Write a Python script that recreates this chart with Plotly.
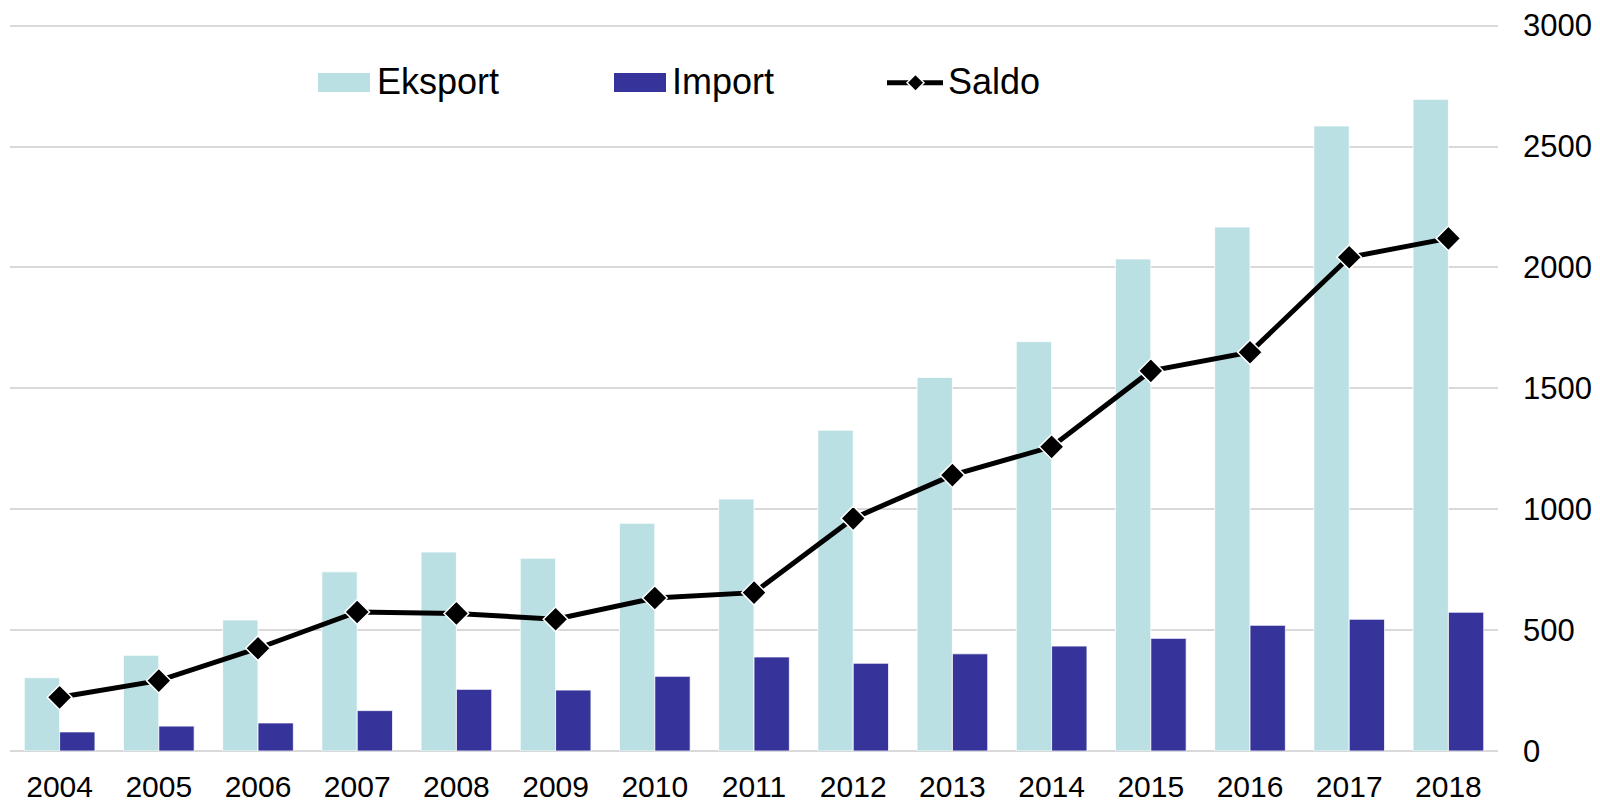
import plotly.graph_objects as go

years = ["2004", "2005", "2006", "2007", "2008", "2009", "2010", "2011",
         "2012", "2013", "2014", "2015", "2016", "2017", "2018"]
eksport = [303, 396, 542, 741, 823, 797, 942, 1042, 1327, 1545, 1693, 2035, 2167, 2585, 2695]
import_ = [79, 103, 116, 167, 255, 252, 309, 389, 363, 402, 434, 466, 520, 545, 574]
saldo = [222, 291, 425, 575, 569, 545, 633, 655, 962, 1141, 1258, 1572, 1649, 2042, 2120]
y_ticks = [0, 500, 1000, 1500, 2000, 2500, 3000]

C_EKS = "#BAE0E3"
C_IMP = "#36349A"
FONT = "Liberation Sans, Arial, sans-serif"

W, H = 1600, 803
ML, MR, MT, MB = 10, 102, 22, 52
PW, PH = W - ML - MR, H - MT - MB
YMAX = 3015


def px(x):
    return (x - ML) / PW


def py(y):
    return (H - MB - y) / PH


fig = go.Figure()
fig.add_trace(go.Bar(x=years, y=eksport, name="Eksport", marker_color=C_EKS,
                     marker_line=dict(color="white", width=0.8)))
fig.add_trace(go.Bar(x=years, y=import_, name="Import", marker_color=C_IMP,
                     marker_line=dict(color="white", width=0.8)))
fig.add_trace(go.Scatter(x=years, y=saldo, name="Saldo", mode="lines+markers",
                         line=dict(color="black", width=5),
                         marker=dict(symbol="diamond", size=19, color="black",
                                     line=dict(color="white", width=1.5))))

shapes = []
annotations = []
# manual legend
legend_items = [
    ("Eksport", C_EKS, 318, 370, 377),
    ("Import", C_IMP, 614, 666, 672),
]
for name, col, x0, x1, tx in legend_items:
    shapes.append(dict(type="rect", xref="paper", yref="paper",
                       x0=px(x0), x1=px(x1), y0=py(92), y1=py(73),
                       fillcolor=col, line=dict(width=0)))
    annotations.append(dict(text=name, xref="paper", yref="paper", x=px(tx - 2), y=py(82),
                            xanchor="left", yanchor="middle", showarrow=False,
                            font=dict(size=36, color="black", family=FONT)))
# Saldo legend
cy = 82.7
shapes.append(dict(type="line", xref="paper", yref="paper", x0=px(887), x1=px(943),
                   y0=py(cy), y1=py(cy), line=dict(color="black", width=5)))
cx = 915.5
d = 8.5
path = "M {},{} L {},{} L {},{} L {},{} Z".format(
    px(cx - d), py(cy), px(cx), py(cy - d), px(cx + d), py(cy), px(cx), py(cy + d))
shapes.append(dict(type="path", xref="paper", yref="paper", path=path,
                   fillcolor="black", line=dict(color="white", width=1.5)))
annotations.append(dict(text="Saldo", xref="paper", yref="paper", x=px(946), y=py(82),
                        xanchor="left", yanchor="middle", showarrow=False,
                        font=dict(size=36, color="black", family=FONT)))

fig.update_layout(
    width=W, height=H,
    margin=dict(l=ML, r=MR, t=MT, b=MB, autoexpand=False),
    paper_bgcolor="white", plot_bgcolor="white",
    barmode="group", bargap=0.287, bargroupgap=0,
    showlegend=False,
    font=dict(family=FONT, size=30, color="black"),
    shapes=shapes, annotations=annotations,
    xaxis=dict(type="category", range=[-0.5, len(years) - 0.5], automargin=False,
               showgrid=False, zeroline=False, showline=False,
               ticks="", tickfont=dict(size=30), ticklabelstandoff=15),
    yaxis=dict(side="right", range=[0, YMAX], tickvals=y_ticks, automargin=False,
               showgrid=True, gridcolor="#D9D9D9", gridwidth=2,
               zeroline=True, zerolinecolor="#D9D9D9", zerolinewidth=2,
               showline=False, ticks="", tickfont=dict(size=31),
               ticklabelstandoff=24),
)

fig.write_html("out.html",
               config={"displayModeBar": False},
               post_script="document.body.style.margin='0px';"
                           "document.body.style.overflow='hidden';")
